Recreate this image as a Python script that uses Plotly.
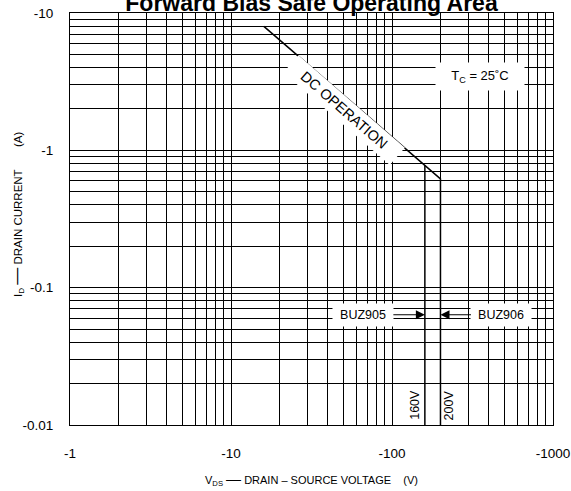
import numpy as np
import plotly.graph_objects as go

# ---- data (magnitudes; chart shows negative polarity) ----
dc_vds = [16, 200, 200]          # |V_DS| (V) DC operation boundary
dc_id = [8, 0.62, 0.01]          # |I_D| (A)
buz905_vds = [160, 160]          # BUZ905 voltage limit
buz905_id = [0.78, 0.01]

x_decades = [1, 10, 100, 1000]
x_ticklabels = ["-1", "-10", "-100", "-1000"]
y_decades = [0.01, 0.1, 1, 10]
y_ticklabels = ["-0.01", "-0.1", "-1", "-10"]

def all_ticks(decades, labels):
    vals, texts = [], []
    for d, lab in zip(decades, labels):
        vals.append(d)
        texts.append(lab)
        if d != decades[-1]:
            for m in range(2, 10):
                vals.append(d * m)
                texts.append("")
    return vals, texts

xv, xt = all_ticks(x_decades, x_ticklabels)
yv, yt = all_ticks(y_decades, y_ticklabels)

FONT = "Liberation Sans, Arial, sans-serif"
NB = "\u00a0"

fig = go.Figure()
fig.add_trace(go.Scatter(x=dc_vds, y=dc_id, mode="lines",
                         line=dict(color="black", width=1.5), showlegend=False,
                         hoverinfo="skip"))
fig.add_trace(go.Scatter(x=buz905_vds, y=buz905_id, mode="lines",
                         line=dict(color="black", width=1.5), showlegend=False,
                         hoverinfo="skip"))

axis_common = dict(type="log", showgrid=True, gridcolor="black", gridwidth=1,
                   showline=True, mirror=True, linecolor="black", linewidth=1,
                   ticks="", zeroline=False, tickmode="array", automargin=False,
                   tickangle=0,
                   tickfont=dict(family=FONT, size=13.5, color="black"))

fig.update_xaxes(range=[0, 3], tickvals=xv, ticktext=xt, ticklabelstandoff=16,
                 **axis_common)
fig.update_yaxes(range=[-2, 1], tickvals=yv, ticktext=yt, ticklabelstandoff=13,
                 **axis_common)

ann = []
ann.append(dict(x=np.log10(50.3), y=np.log10(1.96), xref="x", yref="y",
                text="DC OPERATION", showarrow=False, textangle=41,
                bgcolor="white", width=138, height=20,
                font=dict(family=FONT, size=14.5, color="black")))
ann.append(dict(x=np.log10(352), y=np.log10(3.47), xref="x", yref="y",
                text="T<sub>C</sub> = 25˚C", showarrow=False,
                bgcolor="white", width=86, height=25,
                font=dict(family=FONT, size=13, color="black")))
ann.append(dict(x=np.log10(160), y=np.log10(0.0635), xref="x", yref="y",
                text="BUZ905", showarrow=True, ax=-62, ay=0,
                arrowhead=2, arrowsize=1.8, arrowwidth=1, arrowcolor="black",
                standoff=0, bgcolor="white", width=58, height=20,
                font=dict(family=FONT, size=12.5, color="black")))
ann.append(dict(x=np.log10(200), y=np.log10(0.0635), xref="x", yref="y",
                text="BUZ906", showarrow=True, ax=61, ay=0,
                arrowhead=2, arrowsize=1.8, arrowwidth=1, arrowcolor="black",
                standoff=0, bgcolor="white", width=58, height=20,
                font=dict(family=FONT, size=12.5, color="black")))
ann.append(dict(x=np.log10(160), y=np.log10(0.014), xref="x", yref="y",
                text="160V", showarrow=False, textangle=-90, xshift=-10,
                font=dict(family=FONT, size=12.5, color="black")))
ann.append(dict(x=np.log10(200), y=np.log10(0.014), xref="x", yref="y",
                text="200V", showarrow=False, textangle=-90, xshift=8,
                font=dict(family=FONT, size=12.5, color="black")))
# axis titles
ann.append(dict(x=0.5, y=0, xref="paper", yref="paper", yanchor="top",
                yshift=-43, showarrow=False,
                text="V<sub>DS</sub> <span style='font-size:15px'>—</span> DRAIN – SOURCE VOLTAGE"
                     + NB * 4 + "(V)",
                font=dict(family=FONT, size=11, color="black")))
ann.append(dict(x=-0.112, y=0.512, xref="paper", yref="paper",
                xanchor="center", yanchor="middle", textangle=-90,
                showarrow=False,
                text="I<sub>D</sub> <span style='font-size:17px'>—</span> DRAIN CURRENT"
                     + NB * 7 + "(A)",
                font=dict(family=FONT, size=11.5, color="black")))

fig.update_layout(
    width=571, height=491,
    margin=dict(l=70, r=18, t=13, b=66, autoexpand=False),
    paper_bgcolor="white", plot_bgcolor="white",
    showlegend=False,
    title=dict(text="<b>Forward Bias Safe Operating Area</b>",
               x=0.5, xref="paper", xanchor="center",
               y=0.9943, yref="container", yanchor="middle",
               font=dict(family=FONT, size=23, color="black")),
    annotations=ann,
)

fig.write_html("out.html",
               config={"displayModeBar": False},
               post_script="document.body.style.margin='0';"
                           "document.body.style.overflow='hidden';")
